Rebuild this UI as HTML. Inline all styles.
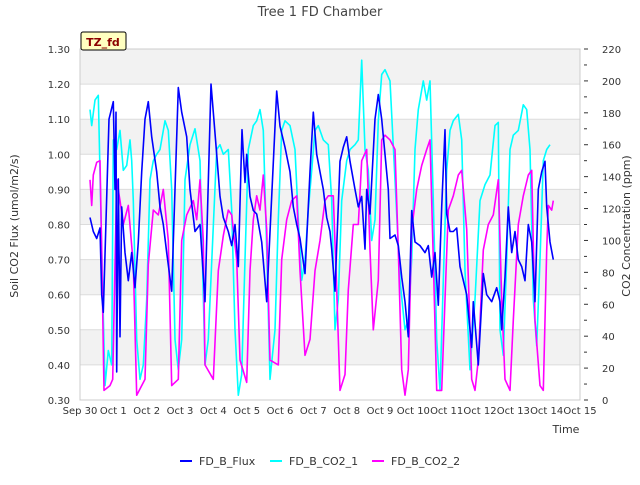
<!DOCTYPE html>
<html><head><meta charset="utf-8"><style>
body{margin:0;background:#fff;font-family:"Liberation Sans","DejaVu Sans",sans-serif;}
svg text{font-family:"DejaVu Sans","Liberation Sans",sans-serif;}
</style></head><body>
<svg id="chart" width="640" height="480" xmlns="http://www.w3.org/2000/svg">
<text x="320" y="16" text-anchor="middle" font-size="13" fill="#444">Tree 1 FD Chamber</text>
<g id="bg"></g><g id="grid"></g><g id="series"></g><g id="axes"></g>
<text transform="translate(18,226) rotate(-90)" text-anchor="middle" font-size="11" fill="#333">Soil CO2 Flux (umol/m2/s)</text>
<text transform="translate(630,226) rotate(-90)" text-anchor="middle" font-size="11" fill="#333">CO2 Concentration (ppm)</text>
<text x="566" y="433" text-anchor="middle" font-size="11" fill="#333">Time</text>
<g><rect x="81" y="32" width="45" height="18" fill="#ffffc0" stroke="#000" stroke-width="1" rx="2"/><text x="103" y="46" text-anchor="middle" font-size="11" font-weight="bold" fill="#8b0000">TZ_fd</text></g>
<g>
<g><line x1="180" y1="461" x2="192" y2="461" stroke="#0000ff" stroke-width="2"/><text x="199" y="465" font-size="11" fill="#333">FD_B_Flux</text></g>
<g><line x1="270" y1="461" x2="282" y2="461" stroke="#00ffff" stroke-width="2"/><text x="289" y="465" font-size="11" fill="#333">FD_B_CO2_1</text></g>
<g><line x1="372" y1="461" x2="384" y2="461" stroke="#ff00ff" stroke-width="2"/><text x="391" y="465" font-size="11" fill="#333">FD_B_CO2_2</text></g>
</g>
</svg>
<script>
const xTickLabels=["Sep 30","Oct 1","Oct 2","Oct 3","Oct 4","Oct 5","Oct 6","Oct 7","Oct 8","Oct 9","Oct 10","Oct 11","Oct 12","Oct 13","Oct 14","Oct 15"];
const yTicks=[0.30,0.40,0.50,0.60,0.70,0.80,0.90,1.00,1.10,1.20,1.30];
const y2Ticks=[0,20,40,60,80,100,120,140,160,180,200,220];
const fluxT=[0.3,0.4,0.5,0.6,0.65,0.7,0.87,1.0,1.05,1.08,1.1,1.15,1.2,1.25,1.35,1.45,1.55,1.65,1.75,1.85,1.95,2.05,2.15,2.3,2.4,2.5,2.6,2.75,2.95,3.05,3.2,3.3,3.45,3.6,3.75,3.93,4.0,4.1,4.2,4.3,4.45,4.55,4.65,4.75,4.86,4.95,5.0,5.1,5.2,5.3,5.45,5.6,5.9,6.0,6.15,6.3,6.4,6.5,6.6,6.75,6.9,7.0,7.1,7.2,7.3,7.4,7.5,7.55,7.65,7.8,7.9,8.0,8.1,8.25,8.35,8.45,8.55,8.6,8.7,8.85,8.95,9.05,9.15,9.25,9.3,9.45,9.55,9.65,9.75,9.85,9.95,10.05,10.2,10.35,10.45,10.55,10.65,10.75,10.85,10.95,11.0,11.1,11.2,11.3,11.4,11.6,11.75,11.8,11.95,12.1,12.2,12.35,12.5,12.6,12.65,12.75,12.85,12.95,13.05,13.15,13.25,13.35,13.45,13.55,13.65,13.75,13.85,13.95,14.0,14.1,14.2];
const fluxV=[0.82,0.78,0.76,0.79,0.60,0.55,1.10,1.15,0.90,1.12,0.38,0.93,0.48,0.85,0.72,0.64,0.72,0.62,0.75,0.95,1.10,1.15,1.05,0.95,0.85,0.80,0.72,0.61,1.19,1.12,1.05,0.90,0.78,0.80,0.58,1.20,1.12,1.00,0.88,0.82,0.78,0.74,0.80,0.68,1.07,0.92,1.00,0.88,0.84,0.83,0.75,0.58,1.18,1.08,1.02,0.95,0.85,0.80,0.76,0.66,0.95,1.12,1.00,0.95,0.90,0.82,0.78,0.73,0.61,0.98,1.02,1.05,0.98,0.90,0.85,0.88,0.73,0.90,0.83,1.10,1.17,1.10,1.00,0.90,0.76,0.77,0.74,0.65,0.58,0.48,0.84,0.75,0.74,0.72,0.74,0.65,0.72,0.57,0.85,1.07,0.83,0.78,0.78,0.79,0.68,0.60,0.45,0.58,0.40,0.66,0.60,0.58,0.62,0.58,0.50,0.65,0.85,0.72,0.78,0.70,0.68,0.64,0.80,0.75,0.58,0.90,0.95,0.98,0.85,0.75,0.70];
const co21T=[0.3,0.35,0.45,0.55,0.65,0.75,0.85,0.95,1.0,1.1,1.2,1.3,1.4,1.5,1.55,1.6,1.7,1.8,1.9,2.0,2.1,2.2,2.3,2.4,2.55,2.65,2.75,2.85,2.95,3.05,3.15,3.3,3.45,3.6,3.75,3.85,4.1,4.2,4.3,4.45,4.55,4.65,4.75,4.85,4.95,5.05,5.2,5.3,5.4,5.5,5.6,5.7,5.85,5.95,6.05,6.15,6.3,6.45,6.55,6.65,6.75,6.85,6.95,7.05,7.15,7.3,7.45,7.55,7.65,7.75,7.85,8.0,8.1,8.25,8.35,8.45,8.55,8.65,8.75,8.85,8.95,9.05,9.15,9.3,9.45,9.6,9.75,9.85,9.95,10.05,10.15,10.3,10.4,10.5,10.6,10.7,10.8,10.9,11.0,11.1,11.2,11.35,11.45,11.55,11.7,11.85,12.0,12.15,12.3,12.45,12.55,12.6,12.7,12.8,12.9,13.0,13.15,13.3,13.4,13.5,13.6,13.7,13.8,13.9,14.0,14.1];
const co21V=[182,172,188,191,94,9,31,22,163,157,169,144,147,163,150,125,38,13,22,63,138,150,154,157,175,169,132,38,19,38,138,160,170,150,22,38,157,160,154,157,119,44,3,16,88,157,172,175,182,169,94,13,44,113,169,175,172,157,113,75,88,119,144,169,172,163,160,125,44,63,125,150,157,160,163,213,157,144,100,113,175,204,207,200,138,75,44,50,88,157,182,200,188,200,125,38,6,75,144,169,175,179,163,81,19,63,125,135,141,172,174,44,28,88,157,166,169,185,182,157,63,34,88,150,157,160];
const co22T=[0.3,0.35,0.4,0.5,0.6,0.65,0.72,0.9,0.98,1.1,1.2,1.3,1.45,1.6,1.7,1.85,1.95,2.05,2.2,2.35,2.5,2.65,2.75,2.95,3.05,3.2,3.4,3.5,3.6,3.7,3.75,4.0,4.15,4.3,4.45,4.55,4.7,4.8,5.0,5.1,5.2,5.3,5.4,5.5,5.6,5.7,5.95,6.05,6.2,6.35,6.5,6.6,6.75,6.9,7.05,7.2,7.35,7.45,7.6,7.7,7.8,7.95,8.05,8.2,8.35,8.45,8.6,8.7,8.8,8.95,9.05,9.15,9.3,9.45,9.55,9.65,9.75,9.85,9.95,10.1,10.25,10.4,10.5,10.6,10.7,10.85,10.95,11.05,11.2,11.35,11.45,11.6,11.75,11.85,11.95,12.1,12.25,12.4,12.55,12.65,12.75,12.9,13.0,13.15,13.3,13.45,13.55,13.65,13.8,13.9,14.0,14.05,14.15,14.2];
const co22V=[138,122,141,149,150,94,6,9,13,138,125,110,122,85,3,9,13,85,119,116,132,100,9,13,100,116,125,113,138,100,22,13,81,103,119,116,88,25,11,81,113,128,119,141,107,25,22,88,113,125,128,81,28,38,81,100,125,128,128,69,6,16,69,110,110,150,157,94,44,75,163,166,163,157,94,19,3,19,107,132,147,157,163,88,6,6,63,119,128,141,144,107,13,6,25,94,110,116,138,63,13,6,50,110,128,141,144,50,9,6,94,122,119,125];

const NS="http://www.w3.org/2000/svg";
const X0=80,X1=580,Y0=49,Y1=400;
const xs=d=>X0+(X1-X0)*d/15;
const yL=v=>Y1-(v-0.30)/(1.30-0.30)*(Y1-Y0);
const yR=v=>Y1-v/220*(Y1-Y0);
function mk(tag,attrs,parent){const e=document.createElementNS(NS,tag);for(const k in attrs)e.setAttribute(k,attrs[k]);parent.appendChild(e);return e;}
const bg=document.getElementById('bg'),grid=document.getElementById('grid'),ser=document.getElementById('series'),ax=document.getElementById('axes');
const plot=mk('rect',{x:X0,y:Y0,width:X1-X0,height:Y1-Y0,fill:'#fff'},bg);


for(let i=0;i<yTicks.length-1;i++){
  if((yTicks.length-2-i)%2===0){
    const b=mk('rect',{x:X0,y:yL(yTicks[i+1]),width:X1-X0,height:yL(yTicks[i])-yL(yTicks[i+1]),fill:'#f2f2f2'},bg);
    
    
  }
}
yTicks.forEach(v=>{
  const g=mk('line',{x1:X0,x2:X1,y1:yL(v),y2:yL(v),stroke:'#dcdcdc','stroke-width':1},grid);
  
  
  const t=mk('text',{x:X0-10,y:yL(v)+4,'text-anchor':'end','font-size':10,fill:'#333'},ax);
  t.textContent=v.toFixed(2);
  
  
});
y2Ticks.forEach(v=>{
  mk('line',{x1:X1+4,x2:X1+8,y1:yR(v),y2:yR(v),stroke:'#333'},ax);
  if(v<220) mk('line',{x1:X1+4,x2:X1+7,y1:yR(v+10),y2:yR(v+10),stroke:'#333'},ax);
  const t=mk('text',{x:X1+22,y:yR(v)+4,'font-size':10,fill:'#333'},ax);
  t.textContent=v;
  
  
});
xTickLabels.forEach((s,i)=>{
  const t=mk('text',{x:xs(i),y:414,'text-anchor':'middle','font-size':10,fill:'#333'},ax);
  t.textContent=s;
  
  
});
const frame=mk('rect',{x:X0,y:Y0,width:X1-X0,height:Y1-Y0,fill:'none',stroke:'#ccc'},ax);


function line(T,V,yf,color,name){
  const d=T.map((t,i)=>(i?'L':'M')+xs(t).toFixed(1)+','+yf(V[i]).toFixed(1)).join('');
  const p=mk('path',{d:d,fill:'none',stroke:color,'stroke-width':1.6,'stroke-linejoin':'round'},ser);
  
  
}
line(co21T,co21V,yR,'#00ffff','series-fd-b-co2-1');
line(co22T,co22V,yR,'#ff00ff','series-fd-b-co2-2');
line(fluxT,fluxV,yL,'#0000ff','series-fd-b-flux');
</script>
</body></html>
